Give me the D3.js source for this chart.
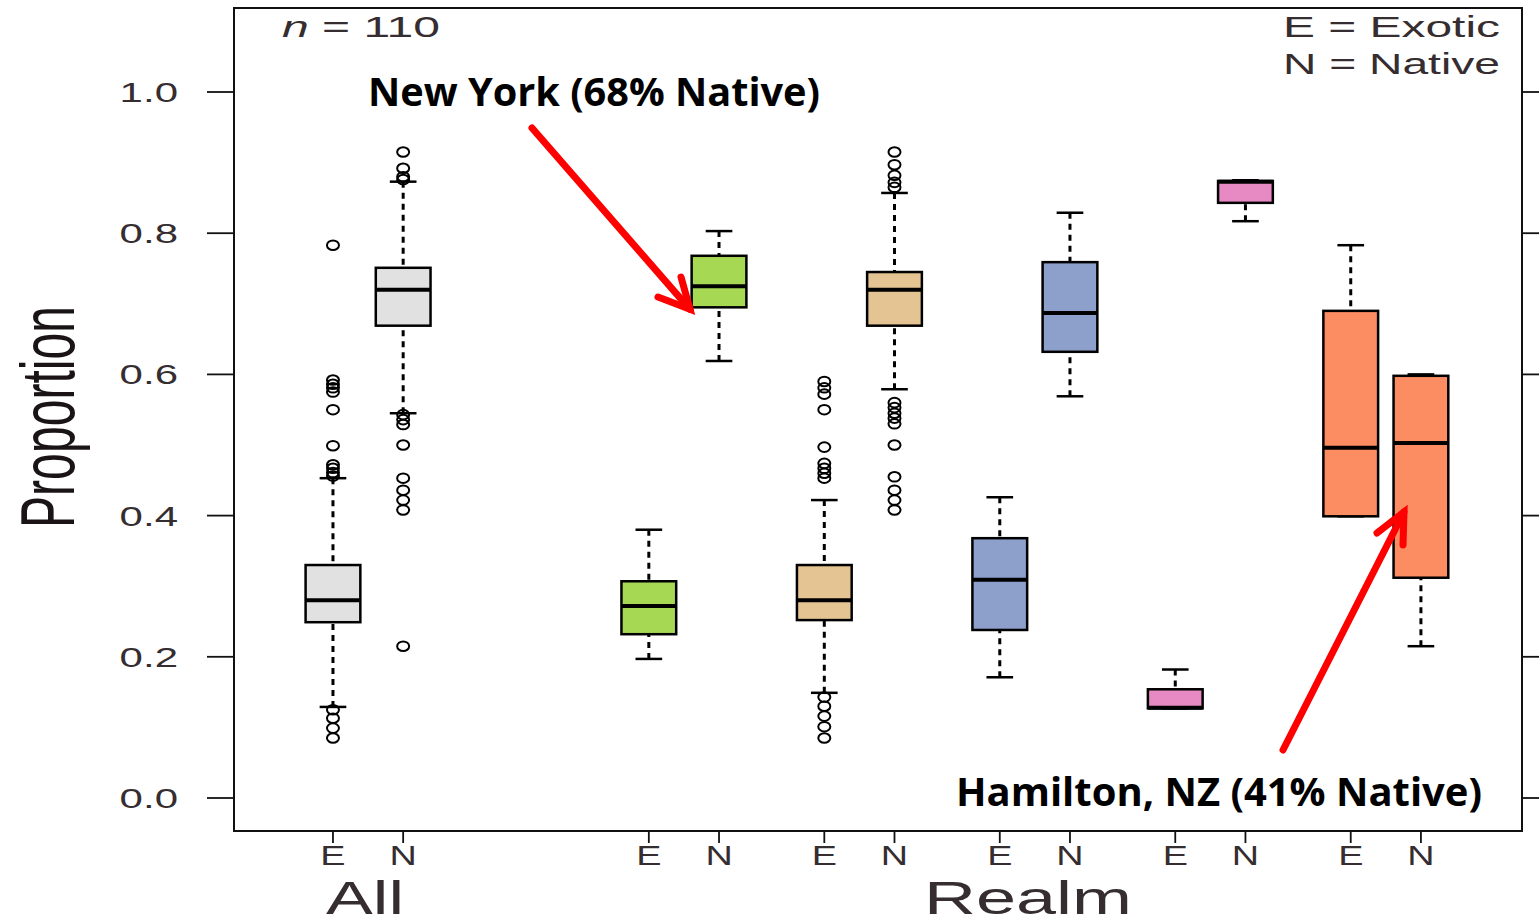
<!DOCTYPE html>
<html>
<head>
<meta charset="utf-8">
<script src="https://cdn.jsdelivr.net/npm/d3@7"></script>
<style>
  html, body { margin: 0; padding: 0; background: #fff; }
  svg { display: block; }
</style>
</head>
<body>
<svg width="1539" height="924"></svg>
<script>
// groups along the x axis (first is All, the rest are realms)
var groups = ["All", "Realm", "Realm", "Realm", "Realm", "Realm"];
var types = ["E", "N"];
var yTicks = [0, 0.2, 0.4, 0.6, 0.8, 1.0];

// [lower whisker, q1, median, q3, upper whisker]
var exoticStats = [
  [0.129, 0.249, 0.280, 0.330, 0.453],
  [0.197, 0.232, 0.272, 0.307, 0.380],
  [0.149, 0.252, 0.280, 0.330, 0.422],
  [0.171, 0.238, 0.309, 0.368, 0.426],
  [0.127, 0.127, 0.128, 0.154, 0.182],
  [0.399, 0.399, 0.496, 0.690, 0.783]
];
var nativeStats = [
  [0.545, 0.669, 0.720, 0.751, 0.873],
  [0.619, 0.695, 0.725, 0.768, 0.803],
  [0.579, 0.669, 0.720, 0.745, 0.857],
  [0.569, 0.632, 0.687, 0.759, 0.829],
  [0.817, 0.843, 0.873, 0.874, 0.875],
  [0.215, 0.312, 0.503, 0.598, 0.600]
];
var exoticOutliers = [
  [0.783, 0.592, 0.586, 0.581, 0.575, 0.550, 0.499, 0.472, 0.467, 0.461, 0.456, 0.125, 0.113, 0.099, 0.085],
  [],
  [0.590, 0.581, 0.572, 0.550, 0.497, 0.474, 0.467, 0.460, 0.453, 0.143, 0.130, 0.116, 0.101, 0.085],
  [], [], []
];
var nativeOutliers = [
  [0.915, 0.892, 0.880, 0.876, 0.543, 0.536, 0.529, 0.500, 0.453, 0.436, 0.422, 0.408, 0.215],
  [],
  [0.915, 0.897, 0.882, 0.872, 0.865, 0.560, 0.553, 0.545, 0.538, 0.530, 0.500, 0.455, 0.436, 0.422, 0.408],
  [], [], []
];
var groupColors = ["#e1e1e1", "#a6d854", "#e5c494", "#8da0cb", "#e78ac3", "#fc8d62"];

var svg = d3.select("svg");
var frame = {left: 234, right: 1522, top: 8, bottom: 831};
var textCol = "#352d30";

// slot positions like R's boxplot(at=...)
function slot(g, t) {
  var base = g === 0 ? 1 : 5.5 + (g - 1) * 2.5;
  return base + t;
}

var x = d3.scaleLinear().domain([-0.41, 17.94]).range([frame.left, frame.right]);
var y = d3.scaleLinear().domain([0, 1]).range([798, 92]);
var boxHalf = 0.39, capHalf = 0.19;

// build box rows
var boxes = [];
groups.forEach(function(g, i) {
  boxes.push({g: i, t: 0, s: exoticStats[i], out: exoticOutliers[i]});
  boxes.push({g: i, t: 1, s: nativeStats[i], out: nativeOutliers[i]});
});

var plot = svg.append("g");

boxes.forEach(function(b) {
  var cx = x(slot(b.g, b.t));
  var w = x(boxHalf) - x(0), cw = x(capHalf) - x(0);
  var s = b.s;
  var gg = plot.append("g");
  // whiskers (dashed)
  if (s[0] < s[1]) {
    gg.append("line").attr("x1", cx).attr("x2", cx).attr("y1", y(s[0])).attr("y2", y(s[1]))
      .attr("stroke", "#000").attr("stroke-width", 3).attr("stroke-dasharray", "6,5");
  }
  if (s[4] > s[3]) {
    gg.append("line").attr("x1", cx).attr("x2", cx).attr("y1", y(s[4])).attr("y2", y(s[3]))
      .attr("stroke", "#000").attr("stroke-width", 3).attr("stroke-dasharray", "6,5");
  }
  [s[0], s[4]].forEach(function(v) {
    gg.append("line").attr("x1", cx - cw).attr("x2", cx + cw).attr("y1", y(v)).attr("y2", y(v))
      .attr("stroke", "#000").attr("stroke-width", 2.5);
  });
  gg.append("rect")
    .attr("x", cx - w).attr("width", 2 * w)
    .attr("y", y(s[3])).attr("height", y(s[1]) - y(s[3]))
    .attr("fill", groupColors[b.g]).attr("stroke", "#000").attr("stroke-width", 2.5);
  gg.append("line").attr("x1", cx - w).attr("x2", cx + w).attr("y1", y(s[2])).attr("y2", y(s[2]))
    .attr("stroke", "#000").attr("stroke-width", 4);
  gg.selectAll("ellipse").data(b.out).enter().append("ellipse")
    .attr("cx", cx).attr("cy", function(d) { return y(d); })
    .attr("rx", 6).attr("ry", 4.8)
    .attr("fill", "none").attr("stroke", "#000").attr("stroke-width", 2);
});

// frame
svg.append("rect")
  .attr("x", frame.left).attr("y", frame.top)
  .attr("width", frame.right - frame.left).attr("height", frame.bottom - frame.top)
  .attr("fill", "none").attr("stroke", "#111").attr("stroke-width", 2);

// y ticks left + right
yTicks.forEach(function(v) {
  svg.append("line").attr("x1", frame.left - 27).attr("x2", frame.left).attr("y1", y(v)).attr("y2", y(v))
    .attr("stroke", "#111").attr("stroke-width", 1.8);
  svg.append("line").attr("x1", frame.right).attr("x2", frame.right + 17).attr("y1", y(v)).attr("y2", y(v))
    .attr("stroke", "#111").attr("stroke-width", 1.8);
  svg.append("text")
    .attr("transform", "translate(178," + (y(v) + 10) + ") scale(1.5,1)")
    .attr("text-anchor", "end")
    .attr("font-family", "Liberation Sans, Arial, sans-serif").attr("font-size", 28)
    .attr("fill", textCol)
    .text(v.toFixed(1));
});

// x ticks
boxes.forEach(function(b) {
  var cx = x(slot(b.g, b.t));
  svg.append("line").attr("x1", cx).attr("x2", cx).attr("y1", frame.bottom).attr("y2", frame.bottom + 12)
    .attr("stroke", "#111").attr("stroke-width", 1.8);
  svg.append("text")
    .attr("transform", "translate(" + cx + ",865) scale(1.35,1)")
    .attr("text-anchor", "middle")
    .attr("font-family", "Liberation Sans, Arial, sans-serif").attr("font-size", 28)
    .attr("fill", textCol)
    .text(types[b.t]);
});

function stretched(txt, x0, base, len, size) {
  return svg.append("text")
    .attr("x", x0).attr("y", base)
    .attr("font-family", "Liberation Sans, Arial, sans-serif").attr("font-size", size)
    .attr("fill", textCol)
    .attr("textLength", len).attr("lengthAdjust", "spacingAndGlyphs")
    .text(txt);
}

// group labels
stretched(groups[0], 326, 914, 78, 46);
stretched(groups[1], 924, 914, 208, 46);

// y label
svg.append("text")
  .attr("transform", "translate(74,528) rotate(-90)")
  .attr("font-family", "Liberation Sans, Arial, sans-serif").attr("font-size", 76)
  .attr("fill", "#1a1416")
  .attr("textLength", 222).attr("lengthAdjust", "spacingAndGlyphs")
  .text("Proportion");

// n label
var nt = svg.append("text").attr("x", 282).attr("y", 37)
  .attr("font-family", "Liberation Sans, Arial, sans-serif").attr("font-size", 30)
  .attr("fill", textCol).attr("textLength", 158).attr("lengthAdjust", "spacingAndGlyphs");
nt.append("tspan").attr("font-style", "italic").text("n");
nt.append("tspan").text(" = 110");

// legend text
stretched("E = Exotic", 1283, 37, 217, 30);
stretched("N = Native", 1283, 74, 217, 30);

// annotations
function note(txt, x0, base, len) {
  svg.append("text").attr("x", x0).attr("y", base)
    .attr("font-family", "Open Sans, Noto Sans, sans-serif").attr("font-weight", "bold")
    .attr("font-size", 40).attr("fill", "#000")
    .attr("textLength", len).attr("lengthAdjust", "spacingAndGlyphs")
    .text(txt);
}
note("New York (68% Native)", 368, 106, 452);
note("Hamilton, NZ (41% Native)", 956, 806, 526);

function arrow(from, tip, b1, b2) {
  var g = svg.append("g").attr("stroke", "#ff0000").attr("stroke-width", 7)
    .attr("stroke-linecap", "round").attr("fill", "none");
  g.append("path").attr("d", "M" + from + "L" + tip);
  g.append("path").attr("d", "M" + b1 + "L" + tip + "L" + b2).attr("stroke-linejoin", "miter");
}
// New York arrow points at the realm-1 native box
arrow([532, 128], [x(slot(1, 1)) - 29, y(0.695) + 2], [658, 297], [681, 277]);
// Hamilton arrow points at the realm-5 native box
arrow([1283, 750], [1404, 512], [1377, 533], [1403, 545]);
</script>
</body>
</html>
